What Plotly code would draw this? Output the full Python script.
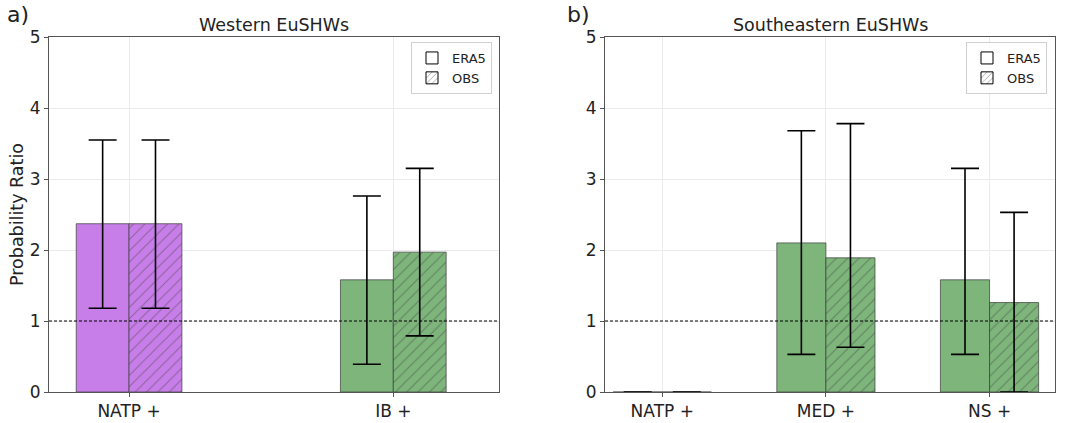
import plotly.graph_objects as go

# ---- data ----
cats_a = ["NATP +", "IB +"]
era5_a = [2.37, 1.58]
era5_a_hi = [3.55, 2.76]
era5_a_lo = [1.18, 0.39]
obs_a = [2.37, 1.97]
obs_a_hi = [3.55, 3.15]
obs_a_lo = [1.18, 0.79]
colors_a = ["#c87ee9", "#7db57b"]

cats_b = ["NATP +", "MED +", "NS +"]
era5_b = [0.0, 2.10, 1.58]
era5_b_hi = [None, 3.68, 3.15]
era5_b_lo = [None, 0.53, 0.53]
obs_b = [0.0, 1.89, 1.26]
obs_b_hi = [None, 3.78, 2.53]
obs_b_lo = [None, 0.63, 0.0]
colors_b = ["#7db57b", "#7db57b", "#7db57b"]

yticks = [0, 1, 2, 3, 4, 5]

W, H = 1074, 423
FONT = "DejaVu Sans"
EDGE = "rgba(60,60,60,0.7)"


def err(vals, hi, lo):
    plus = [(h - v) if h is not None else 0 for v, h in zip(vals, hi)]
    minus = [(v - l) if l is not None else 0 for v, l in zip(vals, lo)]
    return dict(type="data", symmetric=False, array=plus, arrayminus=minus,
                color="black", thickness=1.6, width=14, visible=True)


fig = go.Figure()


def add_panel(cats, era, ehi, elo, obs, ohi, olo, cols, w, xa, ya, leg):
    xs = list(range(len(cats)))
    e1 = err(era, ehi, elo)
    e2 = err(obs, ohi, olo)
    fig.add_trace(go.Bar(x=xs, y=era, width=w, offset=-w, marker=dict(color=cols, line=dict(color=EDGE, width=1)),
                         error_y=e1, xaxis=xa, yaxis=ya, showlegend=False))
    fig.add_trace(go.Bar(x=xs, y=obs, width=w, offset=0,
                         marker=dict(color=cols, line=dict(color=EDGE, width=1),
                                     pattern=dict(shape="/", fgcolor="#151515", size=8, solidity=0.12)),
                         error_y=e2, xaxis=xa, yaxis=ya, showlegend=False))
    # legend entries
    fig.add_trace(go.Bar(x=[None], y=[None], name="ERA5", marker=dict(color="white", line=dict(color="black", width=1)),
                         xaxis=xa, yaxis=ya, legend=leg))
    fig.add_trace(go.Bar(x=[None], y=[None], name="OBS",
                         marker=dict(color="white", line=dict(color="black", width=1),
                                     pattern=dict(shape="/", fgcolor="black", size=5, solidity=0.15)),
                         xaxis=xa, yaxis=ya, legend=leg))


add_panel(cats_a, era5_a, era5_a_hi, era5_a_lo, obs_a, obs_a_hi, obs_a_lo, colors_a, 0.2, "x", "y", "legend")
add_panel(cats_b, era5_b, era5_b_hi, era5_b_lo, obs_b, obs_b_hi, obs_b_lo, colors_b, 0.3, "x2", "y2", "legend2")

ydom = [1 - 392 / H, 1 - 37 / H]
axis_common = dict(showline=True, linecolor="#555", linewidth=1, mirror=True, ticks="outside", ticklen=4,
                   tickcolor="#555", showgrid=True, gridcolor="#ebebeb", gridwidth=1, zeroline=False,
                   automargin=False, tickfont=dict(family=FONT, size=17, color="#222"))

fig.update_layout(
    width=W, height=H, margin=dict(l=0, r=0, t=0, b=0, autoexpand=False),
    plot_bgcolor="white", paper_bgcolor="white", barmode="overlay",
    font=dict(family=FONT, color="#222"),
    xaxis=dict(domain=[49 / W, 499 / W], range=[-0.303, 1.40], tickvals=list(range(len(cats_a))),
               ticktext=cats_a, anchor="y", **axis_common),
    yaxis=dict(domain=ydom, range=[0, 5], tickvals=yticks, anchor="x",
               title=dict(text="Probability Ratio", font=dict(family=FONT, size=17.5, color="#222"), standoff=1),
               **axis_common),
    xaxis2=dict(domain=[605 / W, 1055 / W], range=[-0.35, 2.40], tickvals=list(range(len(cats_b))),
                ticktext=cats_b, anchor="y2", **axis_common),
    yaxis2=dict(domain=ydom, range=[0, 5], tickvals=yticks, anchor="x2", **axis_common),
    legend=dict(x=492 / W, y=1 - 42 / H, xanchor="right", yanchor="top", bordercolor="#d0d0d0", borderwidth=1,
                bgcolor="rgba(255,255,255,0.8)", font=dict(family=FONT, size=13, color="#222"), tracegroupgap=0),
    legend2=dict(x=1047 / W, y=1 - 42 / H, xanchor="right", yanchor="top", bordercolor="#d0d0d0", borderwidth=1,
                 bgcolor="rgba(255,255,255,0.8)", font=dict(family=FONT, size=13, color="#222"), tracegroupgap=0),
    shapes=[
        dict(type="line", xref="x domain", yref="y", x0=0, x1=1, y0=1, y1=1,
             line=dict(color="black", width=1, dash="3px,2px")),
        dict(type="line", xref="x2 domain", yref="y2", x0=0, x1=1, y0=1, y1=1,
             line=dict(color="black", width=1, dash="3px,2px")),
    ],
    annotations=[
        dict(text="Western EuSHWs", x=274 / W, y=1 - 25 / H, xref="paper", yref="paper", xanchor="center",
             yanchor="middle", showarrow=False, font=dict(family=FONT, size=17.5, color="#222")),
        dict(text="Southeastern EuSHWs", x=830 / W, y=1 - 25 / H, xref="paper", yref="paper", xanchor="center",
             yanchor="middle", showarrow=False, font=dict(family=FONT, size=17.5, color="#222")),
        dict(text="a)", x=5 / W, y=1 - 14 / H, xref="paper", yref="paper", xanchor="left", yanchor="middle",
             showarrow=False, font=dict(family=FONT, size=22, color="#222")),
        dict(text="b)", x=565 / W, y=1 - 14 / H, xref="paper", yref="paper", xanchor="left", yanchor="middle",
             showarrow=False, font=dict(family=FONT, size=22, color="#222")),
    ],
)

fig.write_html("out.html")
